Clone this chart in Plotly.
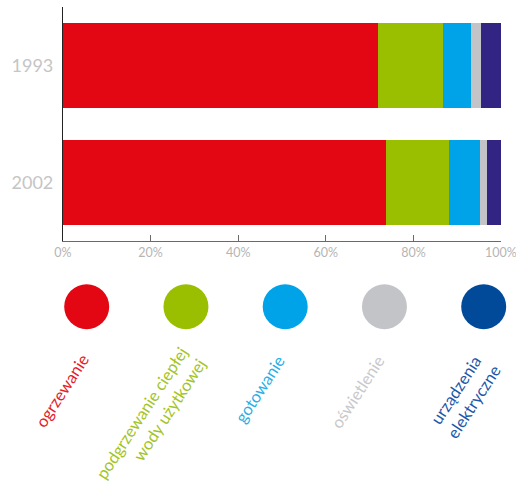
import plotly.graph_objects as go

years = ["1993", "2002"]
categories = ["ogrzewanie", "podgrzewanie ciepłej<br>wody użytkowej", "gotowanie",
              "oświetlenie", "urządzenia<br>elektryczne"]
values = {
    "ogrzewanie": [72.0, 73.8],
    "podgrzewanie": [14.8, 14.4],
    "gotowanie": [6.4, 7.1],
    "oświetlenie": [2.3, 1.4],
    "urządzenia": [4.5, 3.3],
}
bar_colors = ["#e30613", "#99bf00", "#00a3e8", "#c3c4c8", "#312482"]
dot_colors = ["#e30613", "#99bf00", "#00a3e8", "#c3c4c8", "#004a99"]
text_colors = ["#e5202a", "#a3c41e", "#29aee8", "#c8c9cc", "#1d57a8"]
x_ticks = [0, 20, 40, 60, 80, 100]
x_tick_text = ["0%", "20%", "40%", "60%", "80%", "100%"]

W, H = 516, 488
ML = 63
MR = W - 501
MT, MB = 7, 0
paper_h = H - MT - MB
paper_w = W - ML - MR

def py(p):
    return min(1.0, max(0.0, (H - MB - p) / paper_h))

def px_(p):
    return (p - ML) / paper_w

fig = go.Figure()
for i, (key, vals) in enumerate(values.items()):
    fig.add_trace(go.Bar(
        y=years, x=vals, orientation="h", marker=dict(color=bar_colors[i], line_width=0),
        width=0.7265, showlegend=False, hoverinfo="skip", xaxis="x", yaxis="y"))

# legend dots
fig.add_trace(go.Scatter(
    x=list(range(len(categories))), y=[0.5] * len(categories), mode="markers",
    marker=dict(size=45, color=dot_colors, line_width=0),
    xaxis="x2", yaxis="y2", showlegend=False, hoverinfo="skip", cliponaxis=False))

label_pos = [(62, 391), (150, 419), (260, 389), (357.5, 391.5), (464, 396)]
x2_a = -(86.7 - 63) / 99.25
x2_b = x2_a + paper_w / 99.25
for i, cat in enumerate(categories):
    px, pyy = label_pos[i]
    fig.add_annotation(
        x=px_(px), xref="paper", y=py(pyy), yref="paper",
        text=cat, showarrow=False, textangle=-57, align="right" if i == 1 else "center",
        xanchor="center", yanchor="middle",
        font=dict(family="Lato", size=16.5, color=text_colors[i]))

dot_y = 306.7
fig.update_layout(
    width=W, height=H, barmode="stack", bargap=0,
    margin=dict(l=ML, r=MR, t=MT, b=MB, autoexpand=False),
    paper_bgcolor="white", plot_bgcolor="white",
    xaxis=dict(range=[0, 100], tickmode="array", tickvals=x_ticks, ticktext=x_tick_text,
               showgrid=False, zeroline=False, automargin=False, ticklabeloverflow="allow",
               showline=True, linecolor="#6a6a6a", linewidth=1.2,
               ticks="inside", ticklen=6, tickcolor="#6a6a6a", tickwidth=1.2,
               tickfont=dict(family="Lato", size=12.5, color="#b5b5b5"), anchor="y",
               domain=[0, 1]),
    yaxis=dict(categoryorder="array", categoryarray=years, autorange="reversed",
               showgrid=False, zeroline=False, showline=True, automargin=False,
               linecolor="#222222", linewidth=1.2, ticks="", ticklabelstandoff=5,
               tickfont=dict(family="Lato", size=18, color="#c5c5c5"),
               domain=[py(241), py(7)], anchor="x"),
    xaxis2=dict(range=[x2_a, x2_b], visible=False, domain=[0, 1], anchor="y2"),
    yaxis2=dict(range=[0, 1], visible=False,
                domain=[py(dot_y + 40), py(dot_y - 40)], anchor="x2"),
)

fig.write_html(
    "out.html",
    config={"displayModeBar": False},
    post_script="document.body.style.margin='0';document.body.style.overflow='hidden';",
)
